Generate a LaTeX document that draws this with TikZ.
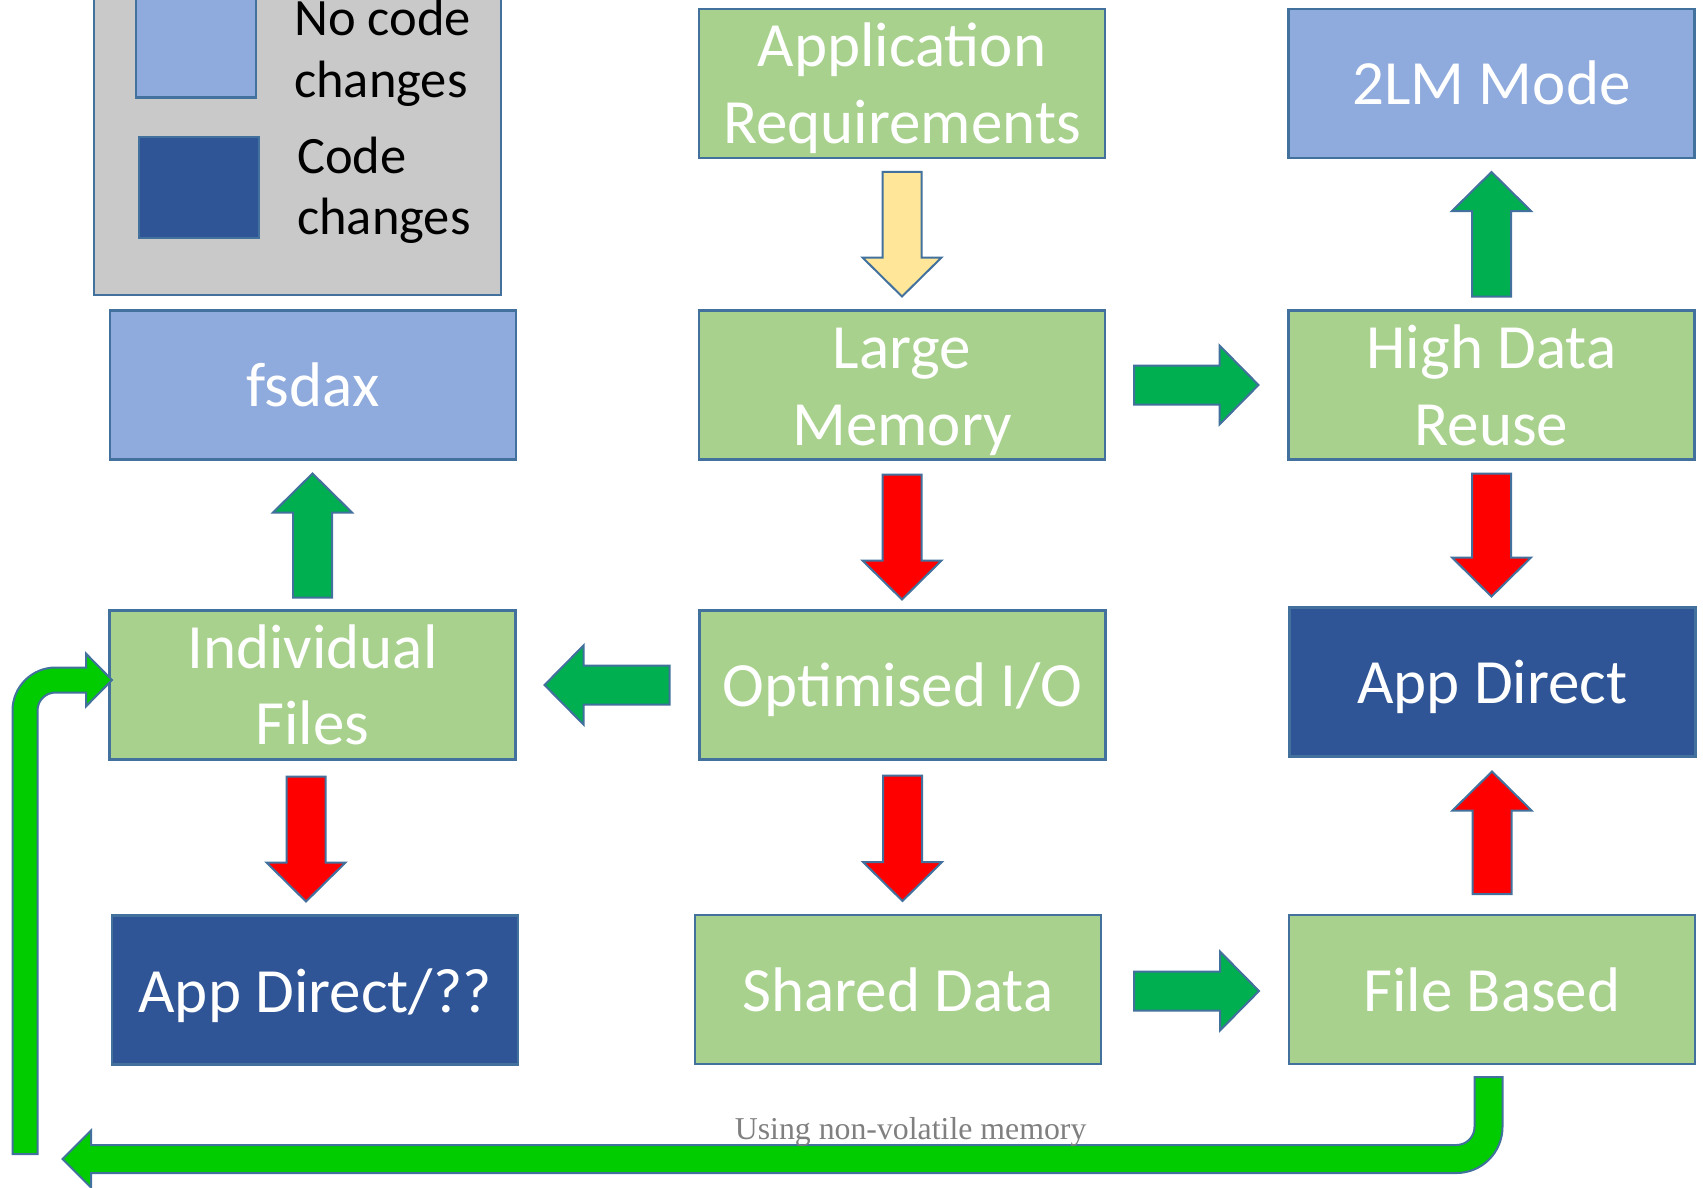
\documentclass[tikz,border=0pt]{standalone}
\usepackage{fontspec}
\setmainfont{Carlito}
\newfontfamily\capfont{Liberation Serif}
\usetikzlibrary{calc}
\definecolor{bord}{HTML}{41719C}
\definecolor{boxgreen}{HTML}{A9D18E}
\definecolor{lightblue}{HTML}{8FAADC}
\definecolor{darkblue}{HTML}{2F5597}
\definecolor{leggray}{HTML}{C9C9C9}
\definecolor{yellowarr}{HTML}{FFE699}
\definecolor{greenarr}{HTML}{00B050}
\definecolor{redarr}{HTML}{FF0000}
\definecolor{biggreen}{HTML}{00CC00}
\definecolor{captgray}{HTML}{808080}
\tikzset{
  box/.style={draw=bord, line width=2.5pt, minimum width=406pt, minimum height=149pt, inner sep=0pt, outer sep=0pt},
  gbox/.style={box, fill=boxgreen},
  lbox/.style={box, fill=lightblue},
  dbox/.style={box, fill=darkblue},
  btxt/.style={text=white, font=\fontsize{63}{75}\selectfont, inner sep=0pt, anchor=base},
  ltxt/.style={text=black, font=\fontsize{52.5}{62}\selectfont, inner sep=0pt, anchor=base west},
  barrow/.style={draw=bord, line width=2pt, line join=miter},
  swatch/.style={draw=bord, line width=2.5pt, minimum width=120pt, minimum height=101pt, inner sep=0pt, outer sep=0pt}
}
\newcommand\blockarrow[3]{%
  \coordinate (bh) at ($(#2)!39pt!(#1)$);
  \draw[barrow, fill=#3] ($(#1)!19.5pt!90:(#2)$) -- ($(bh)!19.5pt!90:(#2)$) -- ($(bh)!39.5pt!90:(#2)$) -- (#2) -- ($(bh)!39.5pt!-90:(#2)$) -- ($(bh)!19.5pt!-90:(#2)$) -- ($(#1)!19.5pt!-90:(#2)$) -- cycle;}
\begin{document}
\begin{tikzpicture}[x=1pt,y=-1pt]
\useasboundingbox[fill=white] (0,0) rectangle (1703,1188);

% legend
\node[draw=bord, line width=2.5pt, fill=leggray, minimum width=407pt, minimum height=315pt, inner sep=0pt] (legend) at (297.5,137.5) {};
\node[swatch, fill=lightblue] (sw1) at (196,47) {};
\node[swatch, fill=darkblue] (sw2) at (199,187.5) {};
\node[ltxt] (lt1) at (294,36) {No code};
\node[ltxt] (lt2) at (294,98) {changes};
\node[ltxt] (lt3) at (297,173) {Code};
\node[ltxt] (lt4) at (297,234) {changes};

% boxes
\node[gbox] (appreq) at (902,83.5) {};
\node[lbox] (twolm) at (1491.5,83.5) {};
\node[lbox] (fsdax) at (312.8,385) {};
\node[gbox] (lm) at (902,385) {};
\node[gbox] (hdr) at (1491.5,385) {};
\node[gbox] (if) at (312.5,685) {};
\node[gbox] (opt) at (902.5,685) {};
\node[dbox] (ad) at (1492.5,682) {};
\node[dbox] (ad2) at (315,990) {};
\node[gbox] (sd) at (898,989.5) {};
\node[gbox] (fb) at (1492,989.5) {};

% box texts
\node[btxt] (appreq1) at ($(appreq.center)+(0,-17)$) {Application};
\node[btxt] (appreq2) at ($(appreq.center)+(0,60)$) {Requirements};
\node[btxt] (twolm1) at ($(twolm.center)+(0,21)$) {2LM Mode};
\node[btxt] (fsdax1) at ($(fsdax.center)+(0,21)$) {fsdax};
\node[btxt] (lm1) at ($(lm.center)+(0,-16.5)$) {Large};
\node[btxt] (lm2) at ($(lm.center)+(0,60.5)$) {Memory};
\node[btxt] (hdr1) at ($(hdr.center)+(0,-16.5)$) {High Data};
\node[btxt] (hdr2) at ($(hdr.center)+(0,60)$) {Reuse};
\node[btxt] (if1) at ($(if.center)+(0,-16.5)$) {Individual};
\node[btxt] (if2) at ($(if.center)+(0,59.5)$) {Files};
\node[btxt] (opt1) at ($(opt.center)+(0,21.5)$) {Optimised I/O};
\node[btxt] (ad1) at ($(ad.center)+(0,21.5)$) {App Direct};
\node[btxt] (ad21) at ($(ad2.center)+(0,22)$) {App Direct/??};
\node[btxt] (sd1) at ($(sd.center)+(0,22)$) {Shared Data};
\node[btxt] (fb1) at ($(fb.center)+(0,22)$) {File Based};

% block arrow ends
\coordinate (a1s) at ($(appreq.south)+(0,14)$);
\coordinate (a1e) at ($(lm.north)+(0,-14)$);
\coordinate (a2s) at ($(lm.south)+(0,15)$);
\coordinate (a2e) at ($(lm.south |- opt.north)+(0,-11)$);
\coordinate (a3s) at ($(opt.south)+(0,16)$);
\coordinate (a3e) at ($(opt.south |- sd.north)+(0,-14)$);
\coordinate (a4s) at ($(hdr.north)+(0,-14)$);
\coordinate (a4e) at ($(twolm.south)+(0,14)$);
\coordinate (a5s) at ($(hdr.south)+(0,14)$);
\coordinate (a5e) at ($(hdr.south |- ad.north)+(0,-11)$);
\coordinate (a6s) at ($(fb.north)+(0,-21)$);
\coordinate (a6e) at ($(fb.north |- ad.south)+(0,15)$);
\coordinate (a7s) at ($(if.north)+(0,-13)$);
\coordinate (a7e) at ($(if.north |- fsdax.south)+(0,14)$);
\coordinate (a8s) at ($(if.south)+(-6.5,17)$);
\coordinate (a8e) at ($(if.south |- ad2.north)+(-6.5,-14)$);
\coordinate (a9s) at ($(lm.east)+(29,0)$);
\coordinate (a9e) at ($(lm.east -| hdr.west)+(-30,0)$);
\coordinate (a10s) at ($(opt.west)+(-30,0)$);
\coordinate (a10e) at ($(opt.west -| if.east)+(29,0)$);
\coordinate (a11s) at ($(sd.east)+(33,1.5)$);
\coordinate (a11e) at ($(sd.east -| fb.west)+(-30,1.5)$);

\blockarrow{a1s}{a1e}{yellowarr}
\blockarrow{a2s}{a2e}{redarr}
\blockarrow{a3s}{a3e}{redarr}
\blockarrow{a4s}{a4e}{greenarr}
\blockarrow{a5s}{a5e}{redarr}
\blockarrow{a6s}{a6e}{redarr}
\blockarrow{a7s}{a7e}{greenarr}
\blockarrow{a8s}{a8e}{redarr}
\blockarrow{a9s}{a9e}{greenarr}
\blockarrow{a10s}{a10e}{greenarr}
\blockarrow{a11s}{a11e}{greenarr}

% big return arrows
\coordinate (ret1) at (1488.5,1077);
\coordinate (ret2) at (25,1154);
\draw[barrow, fill=biggreen] (1474.5,1077) -- (1502.5,1077) -- (1502.5,1127)
  .. controls (1502.5,1152.4) and (1481.9,1173) .. (1456.5,1173)
  -- (91,1173) -- (91,1187.5) -- (62.5,1159) -- (91,1130.5) -- (91,1145) -- (1456.5,1145)
  .. controls (1466.4,1145) and (1474.5,1136.9) .. (1474.5,1127) -- cycle;
\draw[barrow, fill=biggreen] (12.5,1154) -- (12.5,710.5)
  .. controls (12.5,686.8) and (31.8,667.5) .. (55.5,667.5)
  -- (86,667.5) -- (86,653.6) -- (112,680) -- (86,706.4) -- (86,692.5) -- (55.5,692.5)
  .. controls (45.6,692.5) and (37.5,700.6) .. (37.5,710.5) -- (37.5,1154) -- cycle;

\node[text=captgray, font=\capfont\fontsize{31.8}{36}\selectfont, inner sep=0pt, anchor=base] (capt) at (910.6,1139) {Using non-volatile memory};
\end{tikzpicture}
\end{document}
